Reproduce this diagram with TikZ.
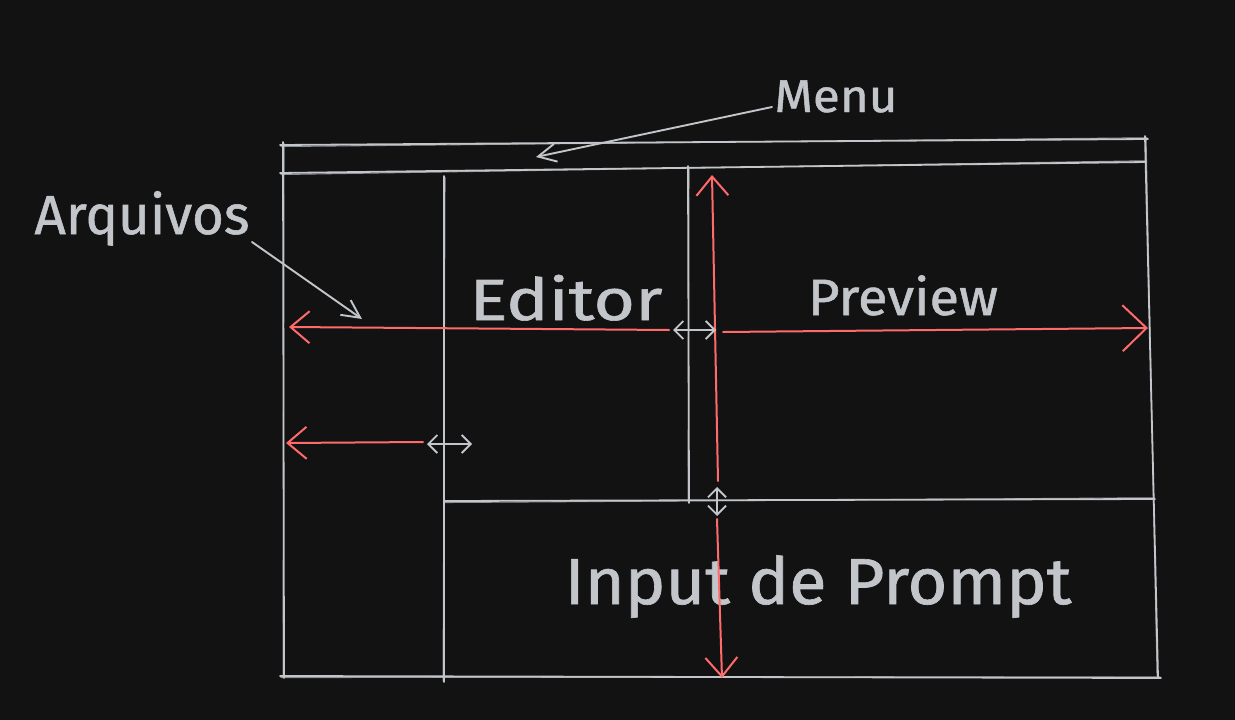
\documentclass[tikz,border=0pt]{standalone}
\usepackage{fontspec}
\setmainfont{Fira Sans}
\usepackage{graphicx}
\usetikzlibrary{arrows.meta}
\definecolor{bg}{HTML}{121212}
\definecolor{ink}{HTML}{C2C6CA}
\definecolor{redink}{HTML}{FF6B6B}
\tikzset{
  frame/.style={draw=ink, line width=1.8pt, line cap=round},
  label/.style={text=ink, inner sep=0pt, anchor=base},
  redarrow/.style={draw=redink, line width=2pt, line cap=round,
    -{Straight Barb[length=19pt,width=32pt,line width=2pt]}},
  bigredarrow/.style={draw=redink, line width=2pt, line cap=round,
    -{Straight Barb[length=24pt,width=46pt,line width=2pt]}},
  grayptr/.style={draw=ink, line width=1.9pt, line cap=round,
    -{Straight Barb[length=18pt,width=18pt,line width=1.9pt]}},
  graydbl/.style={draw=ink, line width=1.8pt, line cap=round,
    {Straight Barb[length=9pt,width=18pt,line width=1.8pt]}-{Straight Barb[length=9pt,width=18pt,line width=1.8pt]}}
}
\newcommand{\skline}[4]{%
  \draw[frame] (#1,#2) -- (#3,#4);
  \draw[frame, line width=1.1pt, opacity=0.7] (#1+1.0,#2+1.5) -- (#3-0.9,#4-1.2);
}
\newcommand{\lbl}[4]{\resizebox{#1pt}{\height}{\fontsize{#2pt}{#2pt}\selectfont\addfontfeatures{FakeBold=1} #3}}
\begin{document}
\begin{tikzpicture}[x=1pt,y=-1pt]
\fill[bg] (0,0) rectangle (1235,720);
\useasboundingbox (0,0) rectangle (1235,720);

% frame
\skline{280}{145}{1148}{139}
\skline{280}{173}{1146}{162}
\skline{283}{142}{284}{678}
\skline{1145}{136}{1158}{677}
\skline{280}{676}{1161}{678}
\skline{444}{176}{444}{682}
\skline{688}{166}{689}{503}
\skline{444}{501}{1155}{499}

% labels
\node[label] (menu) at (836,112) {\lbl{123}{46}{Menu}{}};
\node[label] (arq) at (142,234) {\lbl{215}{55}{Arquivos}{}};
\node[label] (editor) at (566,320) {\lbl{193}{58}{Editor}{}};
\node[label] (preview) at (903,315) {\lbl{190}{51}{Preview}{}};
\node[label] (prompt) at (818,604) {\lbl{507}{65}{Input de Prompt}{}};

% coordinates
\coordinate (m0) at (772,107);
\coordinate (m1) at (536,157);
\coordinate (a0) at (252,242);
\coordinate (a1) at (362,319);
\coordinate (e0) at (669,330);
\coordinate (e1) at (289,327);
\coordinate (g1a) at (673,330);
\coordinate (g1b) at (716,330);
\coordinate (p0) at (723,332);
\coordinate (p1) at (1148,328);
\coordinate (v0) at (718,481);
\coordinate (v1) at (712,175);
\coordinate (g2a) at (717,487);
\coordinate (g2b) at (717,516);
\coordinate (w0) at (717,519);
\coordinate (w1) at (722,678);
\coordinate (l0) at (423,442);
\coordinate (l1) at (286,443);
\coordinate (g3a) at (427,444);
\coordinate (g3b) at (472,444);

% pointers
\draw[grayptr] (m0) -- (m1);
\draw[grayptr] (a0) -- (a1);

% red dimension arrows
\draw[redarrow] (e0) -- (e1);
\draw[bigredarrow] (p0) -- (p1);
\draw[redarrow] (v0) -- (v1);
\draw[redarrow] (w0) -- (w1);
\draw[redarrow] (l0) -- (l1);

% small gray double arrows
\draw[graydbl] (g1a) -- (g1b);
\draw[graydbl] (g2a) -- (g2b);
\draw[graydbl] (g3a) -- (g3b);
\end{tikzpicture}
\end{document}
